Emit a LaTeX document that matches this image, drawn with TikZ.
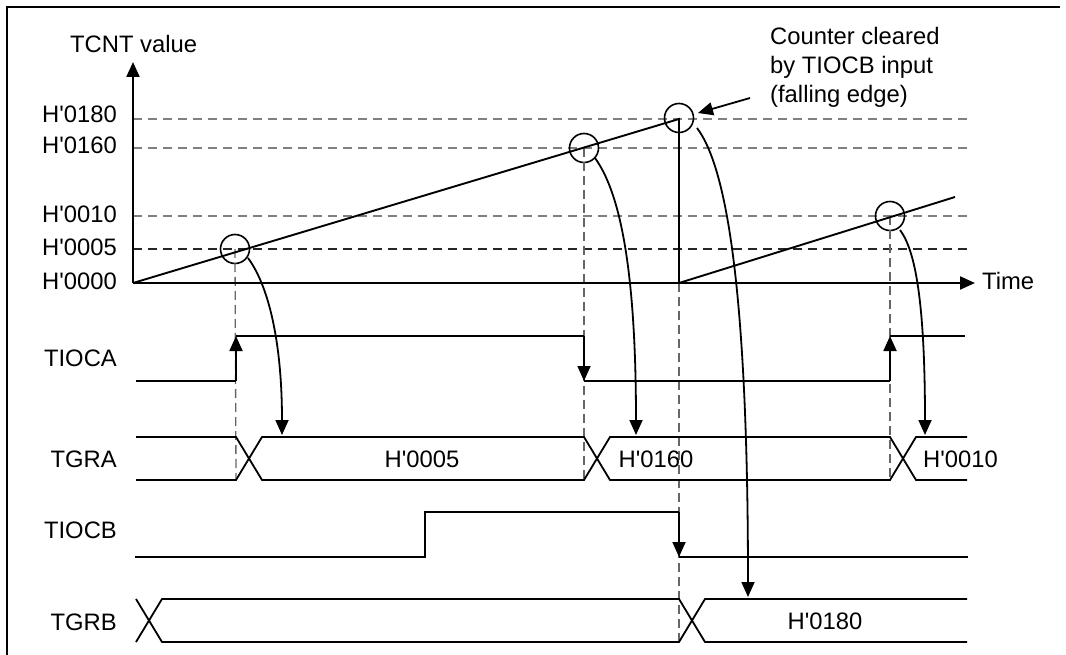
\documentclass[tikz,border=0pt]{standalone}
\usepackage{fontspec}
\setmainfont{Liberation Sans}
\usetikzlibrary{arrows.meta}
\newcommand{\hq}{H\textquotesingle}
\begin{document}
\begin{tikzpicture}[x=1pt,y=-1pt,
  font=\fontsize{23.8}{29}\selectfont,
  tip/.style={-{Triangle[length=15pt,width=13pt]}},
  axis/.style={line width=2.2pt},
  sig/.style={line width=1.8pt},
  lvl/.style={line width=1.5pt, dash pattern=on 9pt off 6pt, draw=black!50},
  lvlk/.style={line width=1.4pt, dash pattern=on 9pt off 6pt, draw=black!85},
  vdash/.style={line width=1.3pt, dash pattern=on 9pt off 5pt, draw=black!60},
  ring/.style={circle, draw, line width=1.6pt, minimum size=29pt, inner sep=0pt},
  lbl/.style={inner sep=0pt, anchor=base east},
  txt/.style={inner sep=0pt}
]
\useasboundingbox (0,0) rectangle (1066,655);
\fill[white] (0,0) rectangle (1066,655);
% frame (top and left)
\draw[line width=2.6pt] (1060,7) -- (7,7) -- (7,656);

% key coordinates
\coordinate (O) at (133,283);
\coordinate (ytop) at (133,62);
\coordinate (xend) at (975,283);
\coordinate (peak) at (679,119);
\coordinate (reset) at (679,283);
\coordinate (r2end) at (955,197);

% level dashed lines
\coordinate (l180a) at (133,119); \coordinate (l180b) at (970,119);
\coordinate (l160a) at (133,148); \coordinate (l160b) at (970,148);
\coordinate (l010a) at (133,216); \coordinate (l010b) at (970,216);
\coordinate (l005a) at (133,249); \coordinate (l005b) at (970,249);
\draw[lvl] (l180a) -- (l180b);
\draw[lvl] (l160a) -- (l160b);
\draw[lvl] (l010a) -- (l010b);
\draw[lvlk] (l005a) -- (l005b);

% circles
\node[ring] (c005) at (235,249) {};
\node[ring] (c160) at (584,148) {};
\node[ring] (c180) at (679,118) {};
\node[ring] (c010) at (890,216) {};

% vertical dashed lines
\coordinate (v1b) at (236,480);
\coordinate (v2b) at (584,480);
\coordinate (v3b) at (890,480);
\coordinate (v4b) at (679,642);
\draw[vdash] (c005.center) -- (v1b);
\draw[vdash] (c160.center) -- (v2b);
\draw[vdash] (c010.center) -- (v3b);
\draw[vdash] (reset) -- (v4b);

% axes
\draw[axis,tip] (O) -- (ytop);
\draw[axis,tip] (O) -- (xend);

% ramps
\draw[line width=1.9pt] (O) -- (peak) -- (reset) -- (r2end);

% axis labels
\node[txt, anchor=base west] (tcnt) at (70,53) {TCNT value};
\node[txt, anchor=base west] (time) at (982,290) {Time};
\node[lbl] (h180) at (117,122.5) {\hq0180};
\node[lbl] (h160) at (117,154) {\hq0160};
\node[lbl] (h010) at (117,222.5) {\hq0010};
\node[lbl] (h005) at (117,256) {\hq0005};
\node[lbl] (h000) at (117,290) {\hq0000};

% annotation
\node[txt, anchor=base west] (n1) at (770,45) {Counter cleared};
\node[txt, anchor=base west] (n2) at (770,74) {by TIOCB input};
\node[txt, anchor=base west] (n3) at (770,103) {(falling edge)};
\coordinate (annS) at (750,98);
\coordinate (annE) at (698,113);
\draw[line width=1.8pt,tip] (annS) -- (annE);

% signal labels
\node[lbl] (ltioca) at (117,366) {TIOCA};
\node[lbl] (ltgra) at (117,467) {TGRA};
\node[lbl] (ltiocb) at (117,538) {TIOCB};
\node[lbl] (ltgrb) at (117,630) {TGRB};

% TIOCA
\draw[sig] (136,381) -- (236,381);
\draw[sig,tip] (236,381) -- (236,336);
\draw[sig] (236,336) -- (584,336);
\draw[sig,tip] (584,336) -- (584,381);
\draw[sig] (584,381) -- (890,381);
\draw[sig,tip] (890,381) -- (890,336);
\draw[sig] (890,336) -- (965,336);

% TGRA
\draw[sig] (136,437) -- (236,437) -- (262,480) -- (584,480) -- (610,437) -- (890,437) -- (916,480) -- (967,480);
\draw[sig] (136,480) -- (236,480) -- (262,437) -- (584,437) -- (610,480) -- (890,480) -- (916,437) -- (967,437);
\node[txt, anchor=base] (va1) at (422,467) {\hq0005};
\node[txt, anchor=base] (va2) at (656,467) {\hq0160};
\node[txt, anchor=base west] (va3) at (923,467) {\hq0010};

% TIOCB
\draw[sig] (135,557) -- (425,557) -- (425,512) -- (679,512);
\draw[sig,tip] (679,512) -- (679,557);
\draw[sig] (679,557) -- (968,557);

% TGRB
\draw[sig] (136,599) -- (162,642) -- (679,642) -- (705,599) -- (967,599);
\draw[sig] (136,642) -- (162,599) -- (679,599) -- (705,642) -- (967,642);
\draw[line width=2.4pt] (290,599) -- (447,599);
\draw[line width=2.4pt] (290,642) -- (447,642);
\node[txt, anchor=base] (vb1) at (825,629) {\hq0180};

% curved arrows
\draw[line width=1.8pt,tip] (248,258) .. controls (268,285) and (282,340) .. (282,435);
\draw[line width=1.8pt,tip] (595,158) .. controls (618,190) and (636,260) .. (636,435);
\draw[line width=1.8pt,tip] (697,128) .. controls (725,165) and (748,280) .. (748,597);
\draw[line width=1.8pt,tip] (900,230) .. controls (915,250) and (925,300) .. (925,435);
\end{tikzpicture}
\end{document}
